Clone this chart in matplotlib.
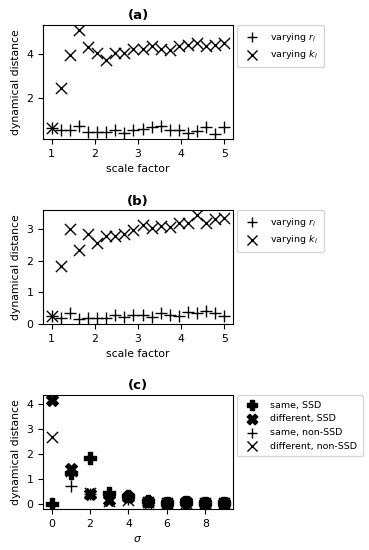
import numpy as np
import matplotlib.pyplot as plt

plt.rcParams['font.size'] = 7.8

# painel (a) e (b): fator de escala
scale = np.linspace(1, 5, 20)

a_r = [0.62, 0.55, 0.55, 0.74, 0.47, 0.44, 0.44, 0.52, 0.41, 0.55,
       0.59, 0.70, 0.74, 0.52, 0.52, 0.41, 0.48, 0.70, 0.36, 0.67]
a_k = [0.62, 2.44, 3.97, 5.10, 4.33, 4.08, 3.73, 4.08, 4.08, 4.26,
       4.23, 4.38, 4.23, 4.20, 4.38, 4.41, 4.53, 4.38, 4.41, 4.50]

b_r = [0.24, 0.19, 0.34, 0.17, 0.19, 0.19, 0.19, 0.27, 0.22, 0.27,
       0.29, 0.22, 0.34, 0.27, 0.24, 0.37, 0.34, 0.40, 0.36, 0.26]
b_k = [0.24, 1.82, 3.00, 2.34, 2.86, 2.56, 2.79, 2.77, 2.86, 2.98,
       3.14, 3.05, 3.10, 3.08, 3.19, 3.19, 3.44, 3.20, 3.33, 3.36]

# painel (c): sigma
sigma = np.arange(10)
same_ssd = [0.0, 1.22, 1.84, 0.44, 0.30, 0.12, 0.05, 0.06, 0.02, 0.02]
diff_ssd = [4.17, 1.41, 0.41, 0.15, 0.28, 0.08, 0.05, 0.06, 0.02, 0.02]
same_non = [0.0, 0.73, 0.40, 0.30, 0.20, 0.08, 0.04, 0.04, 0.02, 0.02]
diff_non = [2.69, 1.30, 0.42, 0.10, 0.15, 0.06, 0.04, 0.05, 0.02, 0.02]

fig = plt.figure(figsize=(3.69, 5.5), dpi=100)
ax_a = fig.add_axes([0.1165, 0.747, 0.515, 0.2075])
ax_b = fig.add_axes([0.1165, 0.411, 0.515, 0.207])
ax_c = fig.add_axes([0.1165, 0.0745, 0.515, 0.2075])

for ax, r, k, titulo in [(ax_a, a_r, a_k, "(a)"), (ax_b, b_r, b_k, "(b)")]:
    ax.scatter(scale, r, marker='+', s=65, c='k', linewidths=1.0, label='varying $r_i$')
    ax.scatter(scale, k, marker='x', s=65, c='k', linewidths=1.0, label='varying $k_i$')
    ax.set_title(titulo, fontweight='bold', fontsize=9.5, pad=4)
    ax.set_xlabel("scale factor")
    ax.set_ylabel("dynamical distance")
    ax.set_xticks([1, 2, 3, 4, 5])
    ax.legend(loc='upper left', bbox_to_anchor=(1.02, 1.0), borderaxespad=0,
              fontsize=6.8, handletextpad=0.9, borderpad=0.6, markerscale=0.9)

ax_a.set_yticks([2, 4])
ax_b.set_yticks([0, 1, 2, 3])

ax_c.scatter(sigma, same_ssd, marker='P', s=70, c='k', label='same, SSD')
ax_c.scatter(sigma, diff_ssd, marker='X', s=70, c='k', label='different, SSD')
ax_c.scatter(sigma, same_non, marker='+', s=65, c='k', linewidths=1.0, label='same, non-SSD')
ax_c.scatter(sigma, diff_non, marker='x', s=65, c='k', linewidths=1.0, label='different, non-SSD')
ax_c.set_title("(c)", fontweight='bold', fontsize=9.5, pad=4)
ax_c.set_xlabel(r"$\sigma$")
ax_c.set_ylabel("dynamical distance")
ax_c.set_xticks([0, 2, 4, 6, 8])
ax_c.set_yticks([0, 1, 2, 3, 4])
ax_c.legend(loc='upper left', bbox_to_anchor=(1.02, 1.0), borderaxespad=0,
            fontsize=6.8, handletextpad=0.9, borderpad=0.6, markerscale=0.9)

fig.savefig("out.png", dpi=100)
